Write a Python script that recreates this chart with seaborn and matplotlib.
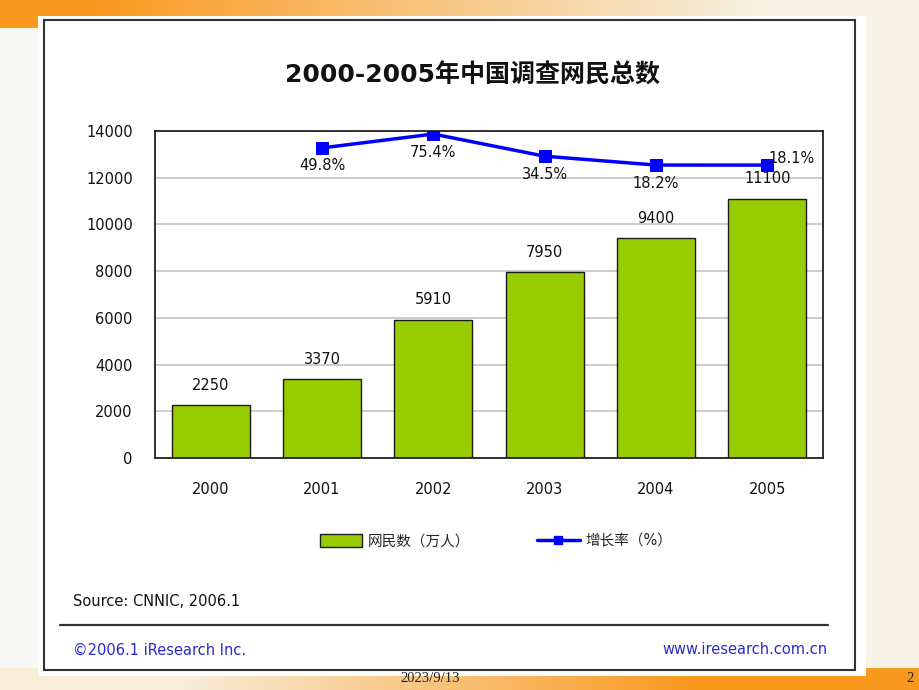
import matplotlib
matplotlib.use('Agg')
import matplotlib.pyplot as plt
import numpy as np
import pandas as pd
import seaborn as sns
from matplotlib.lines import Line2D
from matplotlib.patches import Patch, Rectangle

YEARS = ['2000', '2001', '2002', '2003', '2004', '2005']
NETIZENS = [2250, 3370, 5910, 7950, 9400, 11100]
RATE_YEARS = ['2001', '2002', '2003', '2004', '2005']
RATES = [49.8, 75.4, 34.5, 18.2, 18.1]

TITLE = '2000-2005年中国调查网民总数'
BAR_LABEL = '网民数（万人）'
LINE_LABEL = '增长率（%）'
GREEN = '#99cc00'
BLUE = '#0000ff'


def slide_background(fig):
    # orange bands top and bottom, cream body
    h, w = 690, 920
    img = np.ones((h, w, 3))
    cream = np.array([0.965, 0.955, 0.905])
    orange = np.array([0.98, 0.60, 0.12])
    xs = np.linspace(0, 1, w)
    img[:] = cream
    img[:, :40] = np.array([0.97, 0.97, 0.96])
    t_top = np.clip((xs - 0.1) / 0.75, 0, 1)[:, None]
    img[:28] = (orange * (1 - t_top) + cream * t_top)[None]
    t_bot = np.clip((xs - 0.2) / 0.55, 0, 1)[:, None]
    img[668:] = (np.array([0.97, 0.93, 0.85]) * (1 - t_bot) + orange * t_bot)[None]
    bg = fig.add_axes([0, 0, 1, 1], zorder=-10)
    bg.imshow(img, aspect='auto', extent=(0, 1, 0, 1))
    bg.set_axis_off()
    fig.add_artist(Rectangle((38 / 920, 1 - 676 / 690), 828 / 920, 660 / 690,
                             transform=fig.transFigure, facecolor='white',
                             edgecolor='none', zorder=-5))
    fig.add_artist(Rectangle((44 / 920, 1 - 670 / 690), 811 / 920, 650 / 690,
                             transform=fig.transFigure, facecolor='none',
                             edgecolor='#333333', lw=1.5, zorder=-4))


def main():
    sns.set_theme(style='white')
    plt.rcParams['font.family'] = ['DejaVu Sans', 'Noto Sans CJK SC']

    df = pd.DataFrame({'year': YEARS, 'netizens': NETIZENS})
    rates = pd.DataFrame({'pos': [YEARS.index(y) for y in RATE_YEARS], 'rate': RATES})

    fig = plt.figure(figsize=(9.2, 6.9), dpi=100)
    slide_background(fig)
    ax = fig.add_axes([155 / 920, 1 - 458 / 690, 668 / 920, 327 / 690])

    sns.barplot(data=df, x='year', y='netizens', color=GREEN, saturation=1,
                edgecolor='#1a1a1a', linewidth=1.0, width=0.7, ax=ax)
    ax.bar_label(ax.containers[0], padding=9, fontsize=10.5, color='#111111')
    ax.set_ylim(0, 14000)
    ax.set_yticks(range(0, 14001, 2000))
    ax.yaxis.grid(True, color='#c8c8c8', lw=1.3)
    ax.set_axisbelow(True)
    ax.set_xlabel('')
    ax.set_ylabel('')
    ax.tick_params(axis='x', length=0, pad=17, labelsize=10.5, labelcolor='#111111')
    ax.tick_params(axis='y', length=0, pad=16, labelsize=10.5, labelcolor='#111111')
    for s in ax.spines.values():
        s.set_visible(True)
        s.set_color('#222222')
        s.set_linewidth(1.3)

    ax2 = ax.twinx()
    sns.lineplot(data=rates, x='pos', y='rate', color=BLUE, lw=2.5, marker='s',
                 markersize=8, markeredgecolor=BLUE, ax=ax2)
    ax2.set_ylim(-522, 81)
    ax.set_xlim(-0.5, len(YEARS) - 0.5)
    ax2.set_axis_off()
    for i, (p, r) in enumerate(zip(rates['pos'], rates['rate'])):
        if i == len(RATES) - 1:
            ax2.annotate(f'{r}%', (p, r), xytext=(1, 5), textcoords='offset points',
                         ha='left', va='center', fontsize=10.5, color='#111111')
        else:
            ax2.annotate(f'{r}%', (p, r), xytext=(0, -13), textcoords='offset points',
                         ha='center', va='center', fontsize=10.5, color='#111111')

    fig.text(473 / 920, 1 - 75 / 690, TITLE, ha='center', va='center', fontsize=18,
             fontweight='bold', family=['DejaVu Sans', 'Noto Sans CJK SC'], color='#111111')

    handles = [Patch(facecolor=GREEN, edgecolor='#1a1a1a', lw=1.0),
               Line2D([], [], color=BLUE, lw=2.5, marker='s', markersize=6)]
    fig.legend(handles, [BAR_LABEL, LINE_LABEL], loc='center', ncol=2,
               bbox_to_anchor=(496 / 920, 1 - 541 / 690), frameon=False,
               fontsize=10.5, handlelength=2.9, handleheight=1.0,
               columnspacing=4.6, handletextpad=0.4)

    fig.text(73 / 920, 1 - 602 / 690, 'Source: CNNIC, 2006.1', ha='left', va='center',
             fontsize=10.5, color='#111111')
    fig.add_artist(Line2D([60 / 920, 828 / 920], [1 - 625 / 690, 1 - 625 / 690],
                          transform=fig.transFigure, color='#333333', lw=1.6))
    fig.text(73 / 920, 1 - 650 / 690, '©2006.1 iResearch Inc.', ha='left', va='center',
             fontsize=10.5, color='#2a2acc')
    fig.text(828 / 920, 1 - 650 / 690, 'www.iresearch.com.cn', ha='right', va='center',
             fontsize=10.5, color='#2a2acc')
    fig.text(430 / 920, 1 - 679 / 690, '2023/9/13', ha='center', va='center',
             fontsize=10.5, family='Liberation Serif', color='#222222')
    fig.text(910 / 920, 1 - 679 / 690, '2', ha='center', va='center',
             fontsize=10.5, family='Liberation Serif', color='#222222')

    fig.savefig('out.png', dpi=100)


if __name__ == '__main__':
    main()
